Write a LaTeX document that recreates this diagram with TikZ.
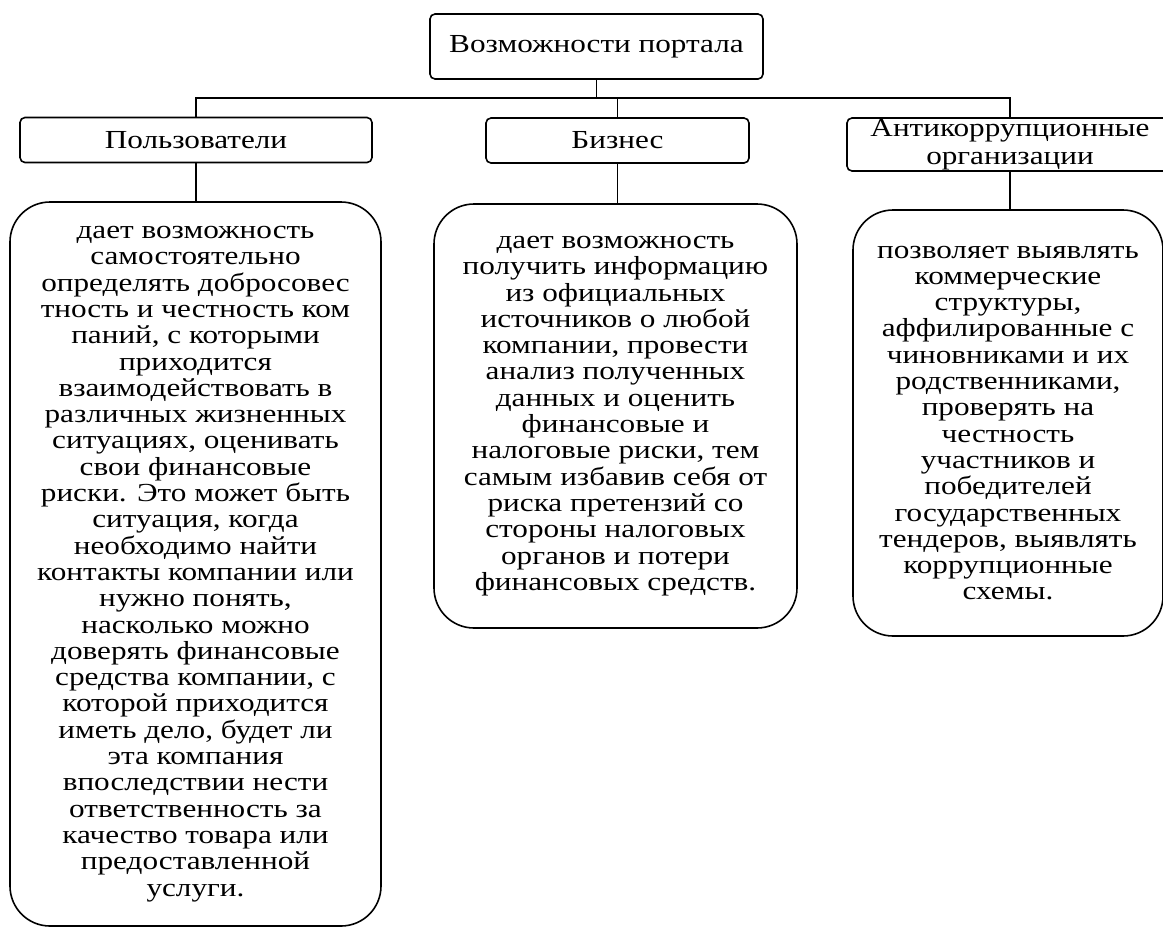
\documentclass[tikz,border=0pt]{standalone}
\usepackage{fontspec}
\setmainfont{Liberation Serif}[FakeStretch=1.2]
\usepackage{tikz}
\usetikzlibrary{calc,positioning}

\begin{document}
\begin{tikzpicture}[x=0.5pt,y=-0.5pt,line cap=round,
      zagolovok/.style={draw,thick,rounded corners=2.5pt,align=center,
        inner sep=0pt,font=\fontsize{13}{14}\selectfont},
      opisanie/.style={draw,thick,rounded corners=20pt,align=center,
        inner sep=0pt,font=\fontsize{13}{13.15}\selectfont}]
    \clip (0,0) rectangle (1163,928);
    % zagolovki
    \node[zagolovok,minimum width=166.5pt,minimum height=32.5pt] (portal)
      at (596.5,46.5) {Возможности портала};
    \node[zagolovok,minimum width=176pt,minimum height=22.5pt] (polz)
      at (196,140) {Пользователи};
    \node[zagolovok,minimum width=131.5pt,minimum height=22.5pt] (biznes)
      at (617.5,140.5) {Бизнес};
    \node[zagolovok,minimum width=163pt,minimum height=26.5pt] (anti)
      at (1010,144.5) {Антикоррупционные\\организации};
    % opisanie
    \node[opisanie,minimum width=185.5pt,minimum height=362pt] (polztxt)
      at (195.5,564) {дает возможность\\самостоятельно\\определять добросовес\\
        тность и честность ком\\паний, с которыми\\приходится\\
        взаимодействовать в\\различных жизненных\\ситуациях, оценивать\\
        свои финансовые\\риски. Это может быть\\ситуация, когда\\
        необходимо найти\\контакты компании или\\нужно понять,\\
        насколько можно\\доверять финансовые\\средства компании, с\\
        которой приходится\\иметь дело, будет ли\\эта компания\\
        впоследствии нести\\ответственность за\\качество товара или\\
        предоставленной\\услуги.};
    \node[opisanie,minimum width=181.5pt,minimum height=212pt] (biztxt)
      at (615.5,416) {дает возможность\\получить информацию\\из официальных\\
        источников о любой\\компании, провести\\анализ полученных\\
        данных и оценить\\финансовые и\\налоговые риски, тем\\
        самым избавив себя от\\риска претензий со\\стороны налоговых\\
        органов и потери\\финансовых средств.};
    \node[opisanie,minimum width=155pt,minimum height=213pt] (antitxt)
      at (1008,423) {позволяет выявлять\\коммерческие\\структуры,\\
        аффилированные с\\чиновниками и их\\родственниками,\\
        проверять на\\честность\\участников и\\победителей\\
        государственных\\тендеров, выявлять\\коррупционные\\схемы.};
    % linii
    \coordinate (bar) at (0,98);
    \draw[thick] (portal.south) -- (portal.south |- bar);
    \draw[thick] (polz.north) -- (polz.north |- bar) -- (anti.north |- bar)
      -- (anti.north);
    \draw[thick] (biznes.north) -- (biznes.north |- bar);
    \draw[thick] (polz.south) -- (polz.south |- polztxt.north);
    \draw[thick] (biznes.south) -- (biznes.south |- biztxt.north);
    \draw[thick] (anti.south) -- (anti.south |- antitxt.north);
  \end{tikzpicture}
\end{document}
